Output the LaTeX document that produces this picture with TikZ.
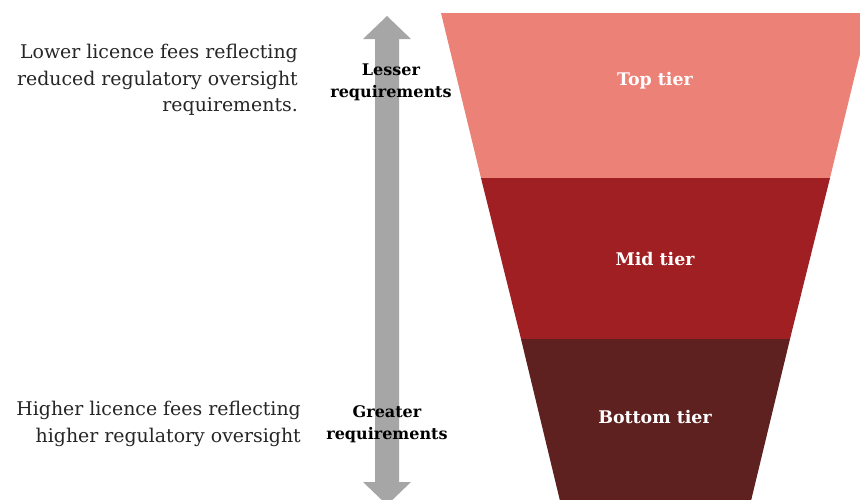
\documentclass[tikz,border=0pt]{standalone}
\usepackage{fontspec}
\setmainfont{DejaVu Serif}
\usetikzlibrary{positioning}
\definecolor{toptier}{HTML}{EC8178}
\definecolor{midtier}{HTML}{A01F22}
\definecolor{bottier}{HTML}{5E2120}
\definecolor{arrowgray}{HTML}{A6A6A6}
\tikzset{
  note/.style={align=right, anchor=east, inner sep=0pt, font=\fontsize{18.9}{26.5}\selectfont, text=black!85},
  reqlabel/.style={align=center, inner sep=0pt, font=\fontsize{16}{22}\selectfont\bfseries},
  tierlabel/.style={inner sep=0pt, text=white, font=\fontsize{17.4}{22}\selectfont\bfseries}
}

\begin{document}
\begin{tikzpicture}[x=1pt, y=-1pt]
    \useasboundingbox (0,0) rectangle (860,499);
    \clip (0,0) rectangle (860,499);
    % funnel
    \coordinate (T1) at (441,13);
    \coordinate (T2) at (870,13);
    \coordinate (M1) at (481,178);
    \coordinate (M2) at (830,178);
    \coordinate (B1) at (521,339);
    \coordinate (B2) at (790,339);
    \coordinate (E1) at (561,505);
    \coordinate (E2) at (750,505);
    \fill[toptier] (T1) -- (T2) -- (M2) -- (M1) -- cycle;
    \fill[midtier] (M1) -- (M2) -- (B2) -- (B1) -- cycle;
    \fill[bottier] (B1) -- (B2) -- (E2) -- (E1) -- cycle;
    \node[tierlabel] (top) at (655,81) {Top tier};
    \node[tierlabel] (mid) at (655,259) {Mid tier};
    \node[tierlabel] (bot) at (655,417) {Bottom tier};
    % double arrow
    \coordinate (up) at (387,16);
    \coordinate (dn) at (387,505);
    \fill[arrowgray] (up) -- ([shift={(24,23)}]up) -- ([shift={(12,23)}]up)
        -- ([shift={(12,-23)}]dn) -- ([shift={(24,-23)}]dn) -- (dn)
        -- ([shift={(-24,-23)}]dn) -- ([shift={(-12,-23)}]dn)
        -- ([shift={(-12,23)}]up) -- ([shift={(-24,23)}]up) -- cycle;
    \node[reqlabel] (lesser) at (391,82) {Lesser\\requirements};
    \node[reqlabel] (greater) at (387,424) {Greater\\requirements};
    % notes
    \node[note] (lower) at (298,80) {Lower licence fees reflecting\\reduced regulatory oversight\\requirements.};
    \node[note] (higher) at (301,424) {Higher licence fees reflecting\\higher regulatory oversight};
\end{tikzpicture}
\end{document}
